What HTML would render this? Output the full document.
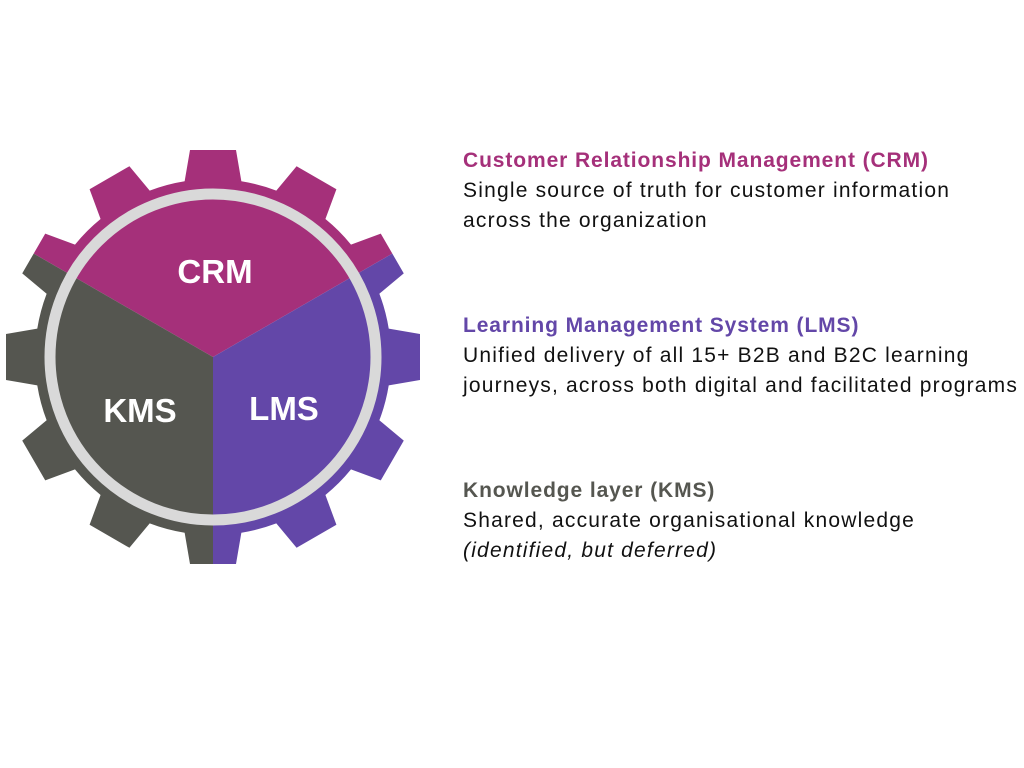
<!DOCTYPE html>
<html><head><meta charset="utf-8"><style>
body{margin:0;width:1024px;height:768px;background:#fff;position:relative;overflow:hidden;font-family:"Liberation Sans",sans-serif}
.b{position:absolute;left:463px;font-size:21px;line-height:30px;color:#111;letter-spacing:1.2px;white-space:nowrap}
.t{font-weight:bold;letter-spacing:0.9px}
</style></head><body>
<svg width="1024" height="768" style="position:absolute;left:0;top:0">
<defs>
<polygon id="th" points="-29,-172 29,-172 23,-207 -23,-207"/>
<clipPath id="g">
<circle cx="0" cy="0" r="178"/>
<use href="#th" transform="rotate(0)"/><use href="#th" transform="rotate(30)"/><use href="#th" transform="rotate(60)"/><use href="#th" transform="rotate(90)"/><use href="#th" transform="rotate(120)"/><use href="#th" transform="rotate(150)"/><use href="#th" transform="rotate(180)"/><use href="#th" transform="rotate(210)"/><use href="#th" transform="rotate(240)"/><use href="#th" transform="rotate(270)"/><use href="#th" transform="rotate(300)"/><use href="#th" transform="rotate(330)"/>
</clipPath>
</defs>
<g transform="translate(213,357)">
<g clip-path="url(#g)">
<polygon fill="#A5307A" points="0,0 -260,-150 -260,-300 260,-300 260,-150"/>
<polygon fill="#6347A8" points="0,0 260,-150 300,-150 300,300 0,300"/>
<polygon fill="#555650" points="0,0 0,300 -300,300 -300,-150 -260,-150"/>
</g>
<circle cx="0" cy="0" r="163" fill="none" stroke="#D9D9D9" stroke-width="11"/>
<g fill="#fff" font-family="Liberation Sans, sans-serif" font-weight="bold" font-size="33" text-anchor="middle">
<text x="2" y="-74">CRM</text>
<text x="-73" y="65">KMS</text>
<text x="71" y="63">LMS</text>
</g>
</g>
</svg>
<div class="b" style="top:146px"><div class="t" style="color:#A5307A">Customer Relationship Management (CRM)</div>Single source of truth for customer information<br>across the organization</div>
<div class="b" style="top:311px"><div class="t" style="color:#6347A8">Learning Management System (LMS)</div>Unified delivery of all 15+ B2B and B2C learning<br>journeys, across both digital and facilitated programs</div>
<div class="b" style="top:476px"><div class="t" style="color:#555650">Knowledge layer (KMS)</div>Shared, accurate organisational knowledge<br><i>(identified, but deferred)</i></div>
</body></html>
